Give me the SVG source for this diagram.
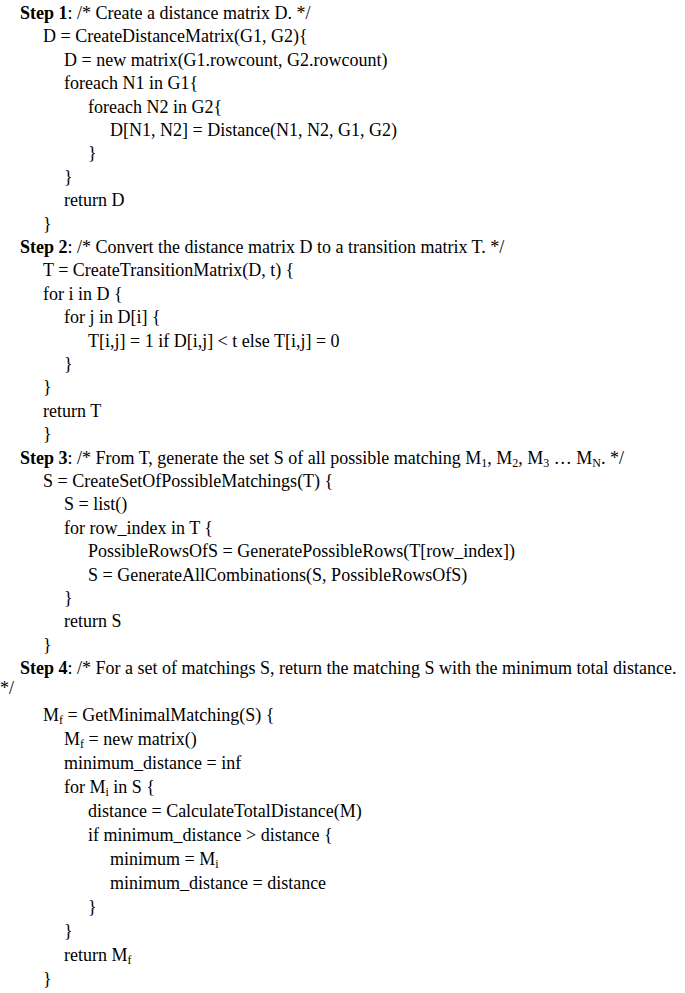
<svg xmlns="http://www.w3.org/2000/svg" width="685" height="993" viewBox="0 0 685 993">
<style>text{font-family:'Liberation Serif','Times New Roman','DejaVu Serif',serif;font-size:18px;fill:#000}.b{font-weight:bold}.s{font-size:12px}</style>
<rect width="685" height="993" fill="#fff"/>
<g id="code" font-family="Liberation Serif, serif">
<text x="20" y="19"><tspan class="b">Step 1</tspan>: /* Create a distance matrix D. */</text>
<text x="43" y="42.4">D = CreateDistanceMatrix(G1, G2){</text>
<text x="64" y="65.8">D = new matrix(G1.rowcount, G2.rowcount)</text>
<text x="64" y="89.2">foreach N1 in G1{</text>
<text x="88" y="112.6">foreach N2 in G2{</text>
<text x="110" y="136">D[N1, N2] = Distance(N1, N2, G1, G2)</text>
<text x="88" y="159.4">}</text>
<text x="64" y="182.8">}</text>
<text x="64" y="206.2">return D</text>
<text x="43" y="229.6">}</text>
<text x="20" y="253"><tspan class="b">Step 2</tspan>: /* Convert the distance matrix D to a transition matrix T. */</text>
<text x="43" y="276.4">T = CreateTransitionMatrix(D, t) {</text>
<text x="43" y="299.8">for i in D {</text>
<text x="64" y="323.2">for j in D[i] {</text>
<text x="88" y="346.6">T[i,j] = 1 if D[i,j] &lt; t else T[i,j] = 0</text>
<text x="64" y="370">}</text>
<text x="43" y="393.4">}</text>
<text x="43" y="416.8">return T</text>
<text x="43" y="440.2">}</text>
<text x="20" y="463.6"><tspan class="b">Step 3</tspan>: /* From T, generate the set S of all possible matching M<tspan class="s" dy="3">1</tspan><tspan dy="-3">, M</tspan><tspan class="s" dy="3">2</tspan><tspan dy="-3">, M</tspan><tspan class="s" dy="3">3</tspan><tspan dy="-3"> … M</tspan><tspan class="s" dy="3">N</tspan><tspan dy="-3">. */</tspan></text>
<text x="43" y="487">S = CreateSetOfPossibleMatchings(T) {</text>
<text x="64" y="510.4">S = list()</text>
<text x="64" y="533.8">for row_index in T {</text>
<text x="88" y="557.2">PossibleRowsOfS = GeneratePossibleRows(T[row_index])</text>
<text x="88" y="580.6">S = GenerateAllCombinations(S, PossibleRowsOfS)</text>
<text x="64" y="604">}</text>
<text x="64" y="627.4">return S</text>
<text x="43" y="650.8">}</text>
<text x="20" y="674.2"><tspan class="b">Step 4</tspan>: /* For a set of matchings S, return the matching S with the minimum total distance.</text>
<text x="0" y="694">*/</text>
<text x="43" y="721">M<tspan class="s" dy="3">f</tspan><tspan dy="-3"> = GetMinimalMatching(S) {</tspan></text>
<text x="64" y="745">M<tspan class="s" dy="3">f</tspan><tspan dy="-3"> = new matrix()</tspan></text>
<text x="64" y="769">minimum_distance = inf</text>
<text x="64" y="793">for M<tspan class="s" dy="3">i</tspan><tspan dy="-3"> in S {</tspan></text>
<text x="88" y="817">distance = CalculateTotalDistance(M)</text>
<text x="88" y="841">if minimum_distance &gt; distance {</text>
<text x="110" y="865">minimum = M<tspan class="s" dy="3">i</tspan></text>
<text x="110" y="889">minimum_distance = distance</text>
<text x="88" y="913">}</text>
<text x="64" y="937">}</text>
<text x="64" y="961">return M<tspan class="s" dy="3">f</tspan></text>
<text x="43" y="985">}</text>
</g>
</svg>
